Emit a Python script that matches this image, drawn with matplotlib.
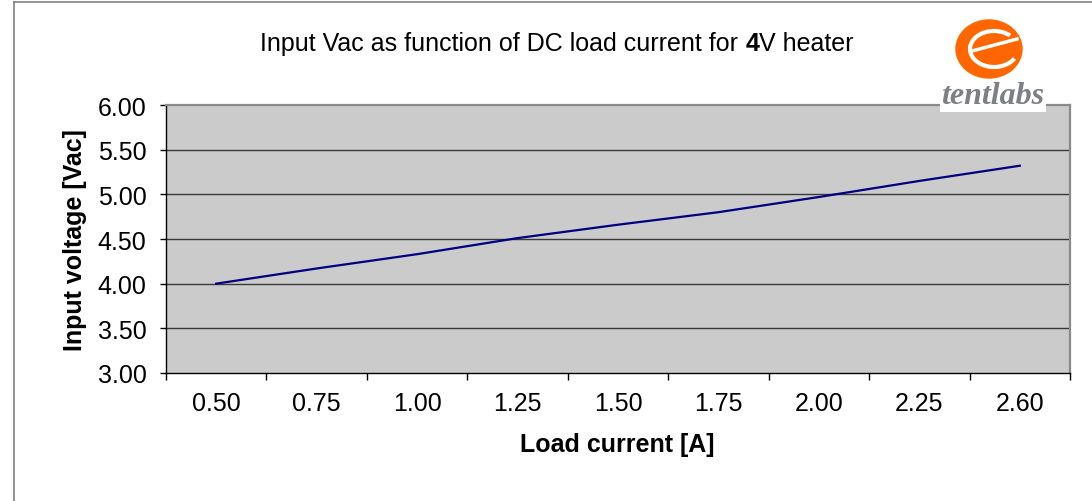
import matplotlib
matplotlib.use("Agg")
import matplotlib.pyplot as plt
from matplotlib.patches import Ellipse, Arc
from matplotlib.lines import Line2D

# data
load_current = ["0.50", "0.75", "1.00", "1.25", "1.50", "1.75", "2.00", "2.25", "2.60"]
input_voltage = [4.00, 4.17, 4.33, 4.51, 4.66, 4.80, 4.97, 5.15, 5.32]
y_ticks = [3.00, 3.50, 4.00, 4.50, 5.00, 5.50, 6.00]

W, H = 1092, 502
plt.rcParams["font.family"] = ["Liberation Sans", "DejaVu Sans"]

fig = plt.figure(figsize=(W / 100, H / 100), dpi=100)


def px_rect(x0, y0, x1, y1):
    # pixel box (top-left origin) -> figure fraction rect
    return [x0 / W, 1 - y1 / H, (x1 - x0) / W, (y1 - y0) / H]


# outer chart frame (only left and top are visible in the picture)
fig.add_artist(Line2D([14 / W, 14 / W], [0, 1 - 3 / H], color="#808080", lw=1.2))
fig.add_artist(Line2D([14 / W, 1], [1 - 3 / H, 1 - 3 / H], color="#808080", lw=1.2))

ax = fig.add_axes(px_rect(166, 106, 1070, 374))
ax.set_facecolor("#cbcbcb")
x = list(range(len(load_current)))
ax.plot(x, input_voltage, color="#000080", lw=1.6, zorder=3)

ax.set_xlim(-0.5, len(load_current) - 0.5)
ax.set_ylim(3.0, 6.0)
ax.set_yticks(y_ticks)
ax.set_yticklabels([f"{v:.2f}" for v in y_ticks], fontsize=18)
ax.set_xticks(x)
ax.set_xticklabels(load_current, fontsize=18)
ax.set_xticks([i - 0.5 for i in range(len(load_current) + 1)], minor=True)
ax.tick_params(axis="x", which="major", length=0, pad=13)
ax.tick_params(axis="x", which="minor", length=5, width=1, color="black")
ax.tick_params(axis="y", length=4, width=1, pad=10)

for v in y_ticks[1:-1]:
    ax.axhline(v, color="#3a3a3a", lw=1.0, zorder=1)

for side in ("left", "bottom"):
    ax.spines[side].set_color("black")
    ax.spines[side].set_linewidth(1.0)
for side in ("top", "right"):
    ax.spines[side].set_color("#8a8a8a")
    ax.spines[side].set_linewidth(1.6)

ax.set_xlabel("Load current [A]", fontsize=18, fontweight="bold", va="center")
ax.set_ylabel("Input voltage [Vac]", fontsize=18, fontweight="bold", va="center")
ax.xaxis.set_label_coords((617 - 166) / 904, (374 - 445) / 268)
ax.yaxis.set_label_coords((75 - 166) / 904, (374 - 240) / 268)

# title with a bold "4"
fig.canvas.draw()
renderer = fig.canvas.get_renderer()
ty = 1 - 44 / H
parts = [("Input Vac as function of DC load current for ", "normal"),
         ("4", "bold"),
         ("V heater", "normal")]
texts = []
for s, w in parts:
    texts.append(fig.text(0, ty, s, fontsize=18, fontweight=w, va="center", ha="left"))
widths = [t.get_window_extent(renderer).width for t in texts]
total = sum(widths)
cur = 557 - total / 2
for t, wd in zip(texts, widths):
    t.set_x(cur / W)
    cur += wd

# tentlabs logo
lax = fig.add_axes(px_rect(940, 10, 1060, 120))
lax.set_xlim(940, 1060)
lax.set_ylim(120, 10)
lax.axis("off")
lax.add_patch(Ellipse((989, 50), 66, 58, color="#ff6600"))
lax.add_patch(Arc((994, 50), 48, 36, theta1=25, theta2=320, color="white", lw=3))
lax.plot([972, 1017], [52, 40], color="white", lw=2.5)
fig.text(993 / W, 1 - 97 / H, "tentlabs", fontsize=23, family="Liberation Serif",
         style="italic", fontweight="bold", color="#7d7f87", ha="center", va="center",
         bbox=dict(boxstyle="square,pad=0.05", fc="white", ec="none"))

fig.savefig("out.png", dpi=100)
